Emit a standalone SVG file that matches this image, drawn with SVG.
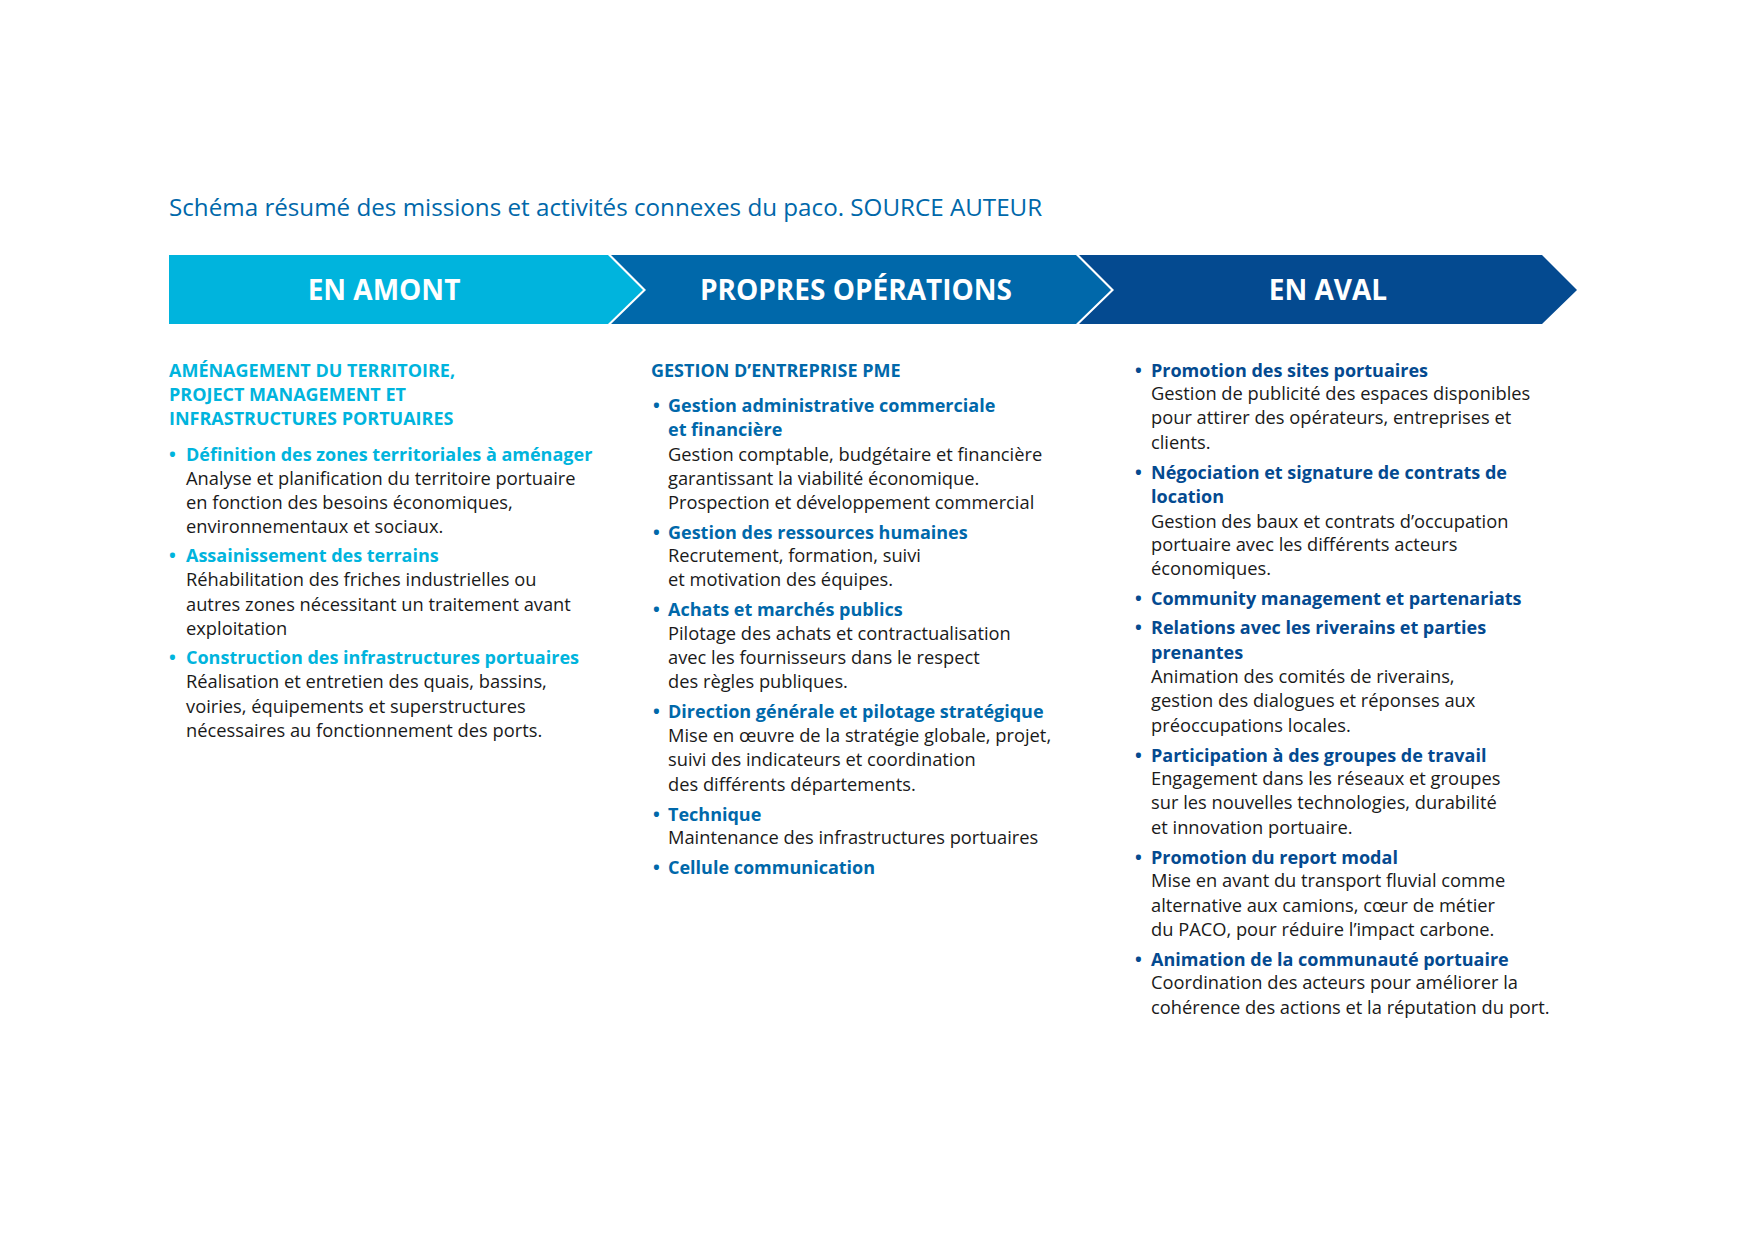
<svg xmlns="http://www.w3.org/2000/svg" width="1740" height="1247" viewBox="0 0 1740 1247">
<style>
.t{font-family:"Open Sans","Liberation Sans",sans-serif;}
.title{font-size:24.2px;fill:#0068AA;}
.band{font-size:28px;font-weight:700;fill:#fff;text-anchor:middle;font-family:"Open Sans","Liberation Sans",sans-serif;}
.b{font-size:18.3px;fill:#1a1a1a;}
.h{font-size:18px;font-weight:700;}
.c1{fill:#00B4DD;}
.c2{fill:#0068AA;}
.c3{fill:#044A90;}
</style>
<rect width="1740" height="1247" fill="#fff"/>
<text class="t title" x="169" y="216">Schéma résumé des missions et activités connexes du paco. SOURCE AUTEUR</text>
<g id="amont">
<path d="M169,255 L608,255 L643,290 L608,324 L169,324 Z" fill="#00B4DD"/>
<text class="band" x="384" y="300">EN AMONT</text>
</g>
<g id="operations">
<path d="M611,255 L1076,255 L1111,290 L1076,324 L611,324 L646,290 Z" fill="#0068AA"/>
<text class="band" x="856" y="300">PROPRES OPÉRATIONS</text>
</g>
<g id="aval">
<path d="M1079,255 L1542,255 L1577,290 L1542,324 L1079,324 L1114,290 Z" fill="#044A90"/>
<text class="band" x="1328" y="300">EN AVAL</text>
</g>
<g id="col-amont" class="t">
<text class="h c1" x="169" y="377">AMÉNAGEMENT DU TERRITOIRE,</text>
<text class="h c1" x="169" y="401">PROJECT MANAGEMENT ET</text>
<text class="h c1" x="169" y="425">INFRASTRUCTURES PORTUAIRES</text>
<text class="h c1" x="169" y="461">•</text><text class="h c1" x="186" y="461">Définition des zones territoriales à aménager</text>
<text class="b" x="186" y="485">Analyse et planification du territoire portuaire</text>
<text class="b" x="186" y="509">en fonction des besoins économiques,</text>
<text class="b" x="186" y="533">environnementaux et sociaux.</text>
<text class="h c1" x="169" y="562">•</text><text class="h c1" x="186" y="562">Assainissement des terrains</text>
<text class="b" x="186" y="586">Réhabilitation des friches industrielles ou</text>
<text class="b" x="186" y="611">autres zones nécessitant un traitement avant</text>
<text class="b" x="186" y="635">exploitation</text>
<text class="h c1" x="169" y="664">•</text><text class="h c1" x="186" y="664">Construction des infrastructures portuaires</text>
<text class="b" x="186" y="688">Réalisation et entretien des quais, bassins,</text>
<text class="b" x="186" y="713">voiries, équipements et superstructures</text>
<text class="b" x="186" y="737">nécessaires au fonctionnement des ports.</text>
</g>
<g id="col-operations" class="t">
<text class="h c2" x="651" y="377">GESTION D’ENTREPRISE PME</text>
<text class="h c2" x="653" y="412">•</text><text class="h c2" x="668" y="412">Gestion administrative commerciale</text>
<text class="h c2" x="668" y="436">et financière</text>
<text class="b" x="668" y="461">Gestion comptable, budgétaire et financière</text>
<text class="b" x="668" y="485">garantissant la viabilité économique.</text>
<text class="b" x="668" y="509">Prospection et développement commercial</text>
<text class="h c2" x="653" y="539">•</text><text class="h c2" x="668" y="539">Gestion des ressources humaines</text>
<text class="b" x="668" y="562">Recrutement, formation, suivi</text>
<text class="b" x="668" y="586">et motivation des équipes.</text>
<text class="h c2" x="653" y="616">•</text><text class="h c2" x="668" y="616">Achats et marchés publics</text>
<text class="b" x="668" y="640">Pilotage des achats et contractualisation</text>
<text class="b" x="668" y="664">avec les fournisseurs dans le respect</text>
<text class="b" x="668" y="688">des règles publiques.</text>
<text class="h c2" x="653" y="718">•</text><text class="h c2" x="668" y="718">Direction générale et pilotage stratégique</text>
<text class="b" x="668" y="742">Mise en œuvre de la stratégie globale, projet,</text>
<text class="b" x="668" y="766">suivi des indicateurs et coordination</text>
<text class="b" x="668" y="791">des différents départements.</text>
<text class="h c2" x="653" y="821">•</text><text class="h c2" x="668" y="821">Technique</text>
<text class="b" x="668" y="844">Maintenance des infrastructures portuaires</text>
<text class="h c2" x="653" y="874">•</text><text class="h c2" x="668" y="874">Cellule communication</text>
</g>
<g id="col-aval" class="t">
<text class="h c3" x="1135" y="377">•</text><text class="h c3" x="1151" y="377">Promotion des sites portuaires</text>
<text class="b" x="1151" y="400">Gestion de publicité des espaces disponibles</text>
<text class="b" x="1151" y="424">pour attirer des opérateurs, entreprises et</text>
<text class="b" x="1151" y="449">clients.</text>
<text class="h c3" x="1135" y="479">•</text><text class="h c3" x="1151" y="479">Négociation et signature de contrats de</text>
<text class="h c3" x="1151" y="503">location</text>
<text class="b" x="1151" y="528">Gestion des baux et contrats d’occupation</text>
<text class="b" x="1151" y="551">portuaire avec les différents acteurs</text>
<text class="b" x="1151" y="575">économiques.</text>
<text class="h c3" x="1135" y="605">•</text><text class="h c3" x="1151" y="605">Community management et partenariats</text>
<text class="h c3" x="1135" y="634">•</text><text class="h c3" x="1151" y="634">Relations avec les riverains et parties</text>
<text class="h c3" x="1151" y="659">prenantes</text>
<text class="b" x="1151" y="683">Animation des comités de riverains,</text>
<text class="b" x="1151" y="707">gestion des dialogues et réponses aux</text>
<text class="b" x="1151" y="732">préoccupations locales.</text>
<text class="h c3" x="1135" y="762">•</text><text class="h c3" x="1151" y="762">Participation à des groupes de travail</text>
<text class="b" x="1151" y="785">Engagement dans les réseaux et groupes</text>
<text class="b" x="1151" y="809">sur les nouvelles technologies, durabilité</text>
<text class="b" x="1151" y="834">et innovation portuaire.</text>
<text class="h c3" x="1135" y="864">•</text><text class="h c3" x="1151" y="864">Promotion du report modal</text>
<text class="b" x="1151" y="887">Mise en avant du transport fluvial comme</text>
<text class="b" x="1151" y="912">alternative aux camions, cœur de métier</text>
<text class="b" x="1151" y="936">du PACO, pour réduire l’impact carbone.</text>
<text class="h c3" x="1135" y="966">•</text><text class="h c3" x="1151" y="966">Animation de la communauté portuaire</text>
<text class="b" x="1151" y="989">Coordination des acteurs pour améliorer la</text>
<text class="b" x="1151" y="1014">cohérence des actions et la réputation du port.</text>
</g>
</svg>
